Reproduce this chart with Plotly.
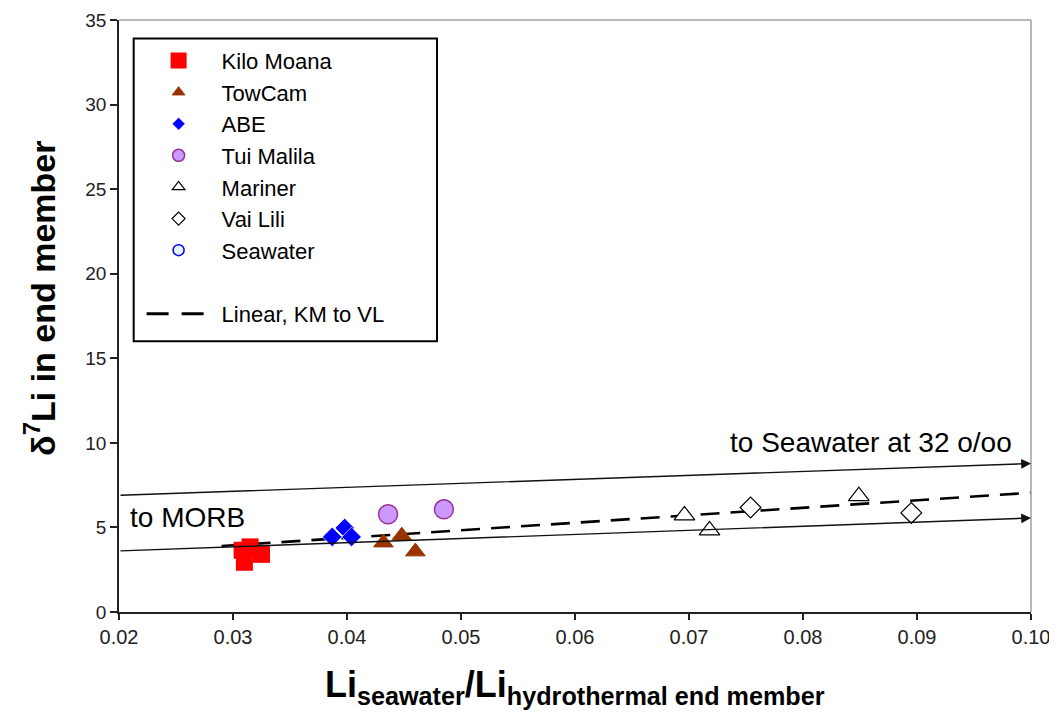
import plotly.graph_objects as go

# ---------------- data ----------------
km_x = [0.0308, 0.0315, 0.0325, 0.0310]
km_y = [3.65, 3.85, 3.41, 2.94]

tc_x = [0.0432, 0.0448, 0.0460]
tc_y = [4.10, 4.51, 3.57]

abe_x = [0.0387, 0.0398, 0.0404]
abe_y = [4.44, 4.97, 4.44]

tui_x = [0.0436, 0.0485]
tui_y = [5.78, 6.07]

mar_x = [0.0696, 0.0718, 0.0849]
mar_y = [5.71, 4.82, 6.85]

vl_x = [0.0754, 0.0895]
vl_y = [6.18, 5.86]

sw_x = [1.0]
sw_y = [31.0]

fit_x = [0.029, 0.100]
fit_y = [3.90, 7.05]

morb_x = [0.02, 0.10]
morb_y = [3.61, 5.56]

swline_x = [0.02, 0.10]
swline_y = [6.90, 8.78]

x_ticks = [0.02, 0.03, 0.04, 0.05, 0.06, 0.07, 0.08, 0.09, 0.10]
x_ticktext = ["0.02", "0.03", "0.04", "0.05", "0.06", "0.07", "0.08", "0.09", "0.10"]
y_ticks = [0, 5, 10, 15, 20, 25, 30, 35]

FONT = "Arial, Liberation Sans, sans-serif"

fig = go.Figure()

# dashed linear fit (drawn first, below markers)
fig.add_trace(go.Scatter(x=fit_x, y=fit_y, mode="lines", showlegend=False,
                         line=dict(color="black", width=2.6, dash="19px,11px")))

series = [
    ("Kilo Moana", km_x, km_y, dict(symbol="square", size=17, color="#ff0000",
                                     line=dict(width=0)), 16),
    ("TowCam", tc_x, tc_y, dict(symbol="triangle-up", size=17, color="#993300",
                                 line=dict(width=1, color="#993300")), 11),
    ("ABE", abe_x, abe_y, dict(symbol="diamond", size=15, color="#0000ff",
                                line=dict(width=0.7, color="white")), 10),
    ("Tui Malila", tui_x, tui_y, dict(symbol="circle", size=19, color="#cc99ff",
                                       line=dict(width=1.5, color="#993399")), 12),
    ("Mariner", mar_x, mar_y, dict(symbol="triangle-up", size=18, color="white",
                                    line=dict(width=1.2, color="black")), 11),
    ("Vai Lili", vl_x, vl_y, dict(symbol="diamond", size=16, color="white",
                                   line=dict(width=1.2, color="black")), 10),
    ("Seawater", sw_x, sw_y, dict(symbol="circle", size=11, color="#e6f2ff",
                                   line=dict(width=1.5, color="#0000ff")), 11),
]

for name, xs, ys, mk, _ in series:
    fig.add_trace(go.Scatter(x=xs, y=ys, mode="markers", name=name, showlegend=False,
                             marker=mk))

# legend-only entries (sized as in the reference legend)
for name, xs, ys, mk, lsize in series:
    lm = dict(mk)
    lm["size"] = lsize
    fig.add_trace(go.Scatter(x=[None], y=[None], mode="markers", name=name,
                             legendgroup="a", marker=lm))

fig.add_trace(go.Scatter(x=[None], y=[None], mode="lines", name="Linear, KM to VL",
                         legendgroup="b",
                         line=dict(color="black", width=2.8,
                                   dash="0px,6px,22px,13px,22px,60px")))

# solid arrows
for lx, ly in [(morb_x, morb_y), (swline_x, swline_y)]:
    fig.add_annotation(x=lx[1], y=ly[1], ax=lx[0], ay=ly[0], xref="x", yref="y",
                       axref="x", ayref="y", text="", showarrow=True,
                       arrowhead=2, arrowsize=1.4, arrowwidth=1.4, arrowcolor="#111",
                       standoff=0, startstandoff=0)

fig.add_annotation(x=0.0208, y=5.6, xref="x", yref="y", text="to MORB",
                   showarrow=False, xanchor="left", yanchor="middle",
                   font=dict(family=FONT, size=28, color="black"))
fig.add_annotation(x=0.0985, y=10.05, xref="x", yref="y", text="to Seawater at 32 o/oo",
                   showarrow=False, xanchor="right", yanchor="middle",
                   font=dict(family=FONT, size=28, color="black"))

# axis titles
fig.add_annotation(x=-0.087, y=0.53, xref="paper", yref="paper",
                   text="<b>δ<sup>7</sup>Li in end member</b>", textangle=-90,
                   showarrow=False, xanchor="center", yanchor="middle",
                   font=dict(family=FONT, size=34, color="black"))
fig.add_annotation(x=0.5, y=-0.127, xref="paper", yref="paper",
                   text="<b>Li<sub>seawater</sub>/Li<sub>hydrothermal end member</sub></b>",
                   showarrow=False, xanchor="center", yanchor="middle",
                   font=dict(family=FONT, size=36, color="black"))

# gray frame (top and right)
fig.add_shape(type="line", xref="paper", yref="paper", x0=0, x1=1, y0=1, y1=1,
              line=dict(color="#a0a0a0", width=1.5))
fig.add_shape(type="line", xref="paper", yref="paper", x0=1, x1=1, y0=0, y1=1,
              line=dict(color="#a0a0a0", width=1.5))
# legend frame
fig.add_shape(type="rect", xref="paper", yref="paper", x0=0.0161, x1=0.3487,
              y0=0.4573, y1=0.9686, line=dict(color="black", width=2),
              fillcolor="white", layer="above")

fig.update_layout(
    width=1049, height=704,
    margin=dict(l=111, r=26, t=12, b=100, autoexpand=False),
    paper_bgcolor="white", plot_bgcolor="white",
    font=dict(family=FONT, color="black"),
    showlegend=True,
    legend=dict(x=0.0182, y=0.9666, xanchor="left", yanchor="top",
                bgcolor="rgba(0,0,0,0)", borderwidth=0,
                font=dict(family=FONT, size=22, color="black"),
                itemwidth=76, traceorder="grouped", tracegroupgap=32),
    xaxis=dict(range=[0.02, 0.10], tickvals=x_ticks, ticktext=x_ticktext,
               automargin=False, ticklabeloverflow="allow",
               showgrid=False, zeroline=False, showline=True, linecolor="#222",
               linewidth=1.5, ticks="outside", ticklen=6, tickwidth=1.5, tickcolor="#222",
               tickfont=dict(family=FONT, size=20, color="#222")),
    yaxis=dict(range=[0, 35], tickvals=y_ticks, showgrid=False, zeroline=False,
               automargin=False, ticklabeloverflow="allow",
               showline=True, linecolor="#222", linewidth=1.5, ticks="outside",
               ticklen=7, tickwidth=1.5, tickcolor="#222",
               tickfont=dict(family=FONT, size=19, color="#222")),
)

fig.write_html("out.html")
